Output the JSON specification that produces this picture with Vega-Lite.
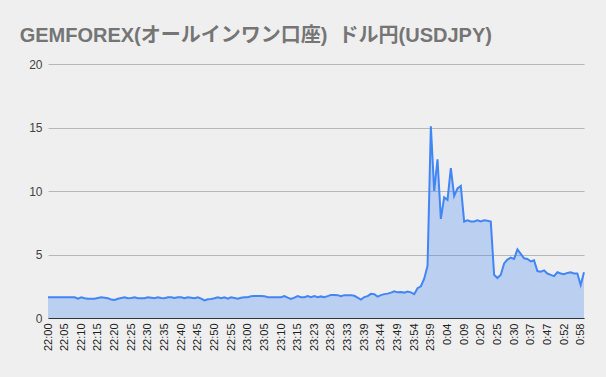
{
  "$schema": "https://vega.github.io/schema/vega-lite/v6.json",
  "width": 536,
  "height": 254,
  "autosize": {"type": "none"},
  "padding": {"left": 48, "top": 64, "right": 22, "bottom": 59},
  "background": "#efefef",
  "title": {
    "text": "GEMFOREX(オールインワン口座)\u00a0\u00a0ドル円(USDJPY)",
    "anchor": "start",
    "dx": -9,
    "offset": 12,
    "font": "Liberation Sans, Noto Sans CJK JP",
    "fontSize": 20,
    "fontWeight": "bold",
    "color": "#757575"
  },
  "config": {"view": {"stroke": null}},
  "data": {
    "values": [
      {"t": "22:00", "v": 1.63}, {"t": "22:01", "v": 1.63}, {"t": "22:02", "v": 1.63}, {"t": "22:03", "v": 1.63},
      {"t": "22:04", "v": 1.63}, {"t": "22:05", "v": 1.63}, {"t": "22:06", "v": 1.63}, {"t": "22:07", "v": 1.63},
      {"t": "22:08", "v": 1.63}, {"t": "22:09", "v": 1.52}, {"t": "22:10", "v": 1.63}, {"t": "22:11", "v": 1.56},
      {"t": "22:12", "v": 1.52}, {"t": "22:13", "v": 1.52}, {"t": "22:14", "v": 1.52}, {"t": "22:15", "v": 1.58},
      {"t": "22:16", "v": 1.63}, {"t": "22:17", "v": 1.6}, {"t": "22:18", "v": 1.55}, {"t": "22:19", "v": 1.45},
      {"t": "22:20", "v": 1.42}, {"t": "22:21", "v": 1.52}, {"t": "22:22", "v": 1.58}, {"t": "22:23", "v": 1.63},
      {"t": "22:24", "v": 1.56}, {"t": "22:25", "v": 1.58}, {"t": "22:26", "v": 1.63}, {"t": "22:27", "v": 1.56},
      {"t": "22:28", "v": 1.55}, {"t": "22:29", "v": 1.55}, {"t": "22:30", "v": 1.63}, {"t": "22:31", "v": 1.6},
      {"t": "22:32", "v": 1.55}, {"t": "22:33", "v": 1.63}, {"t": "22:34", "v": 1.58}, {"t": "22:35", "v": 1.55},
      {"t": "22:36", "v": 1.63}, {"t": "22:37", "v": 1.63}, {"t": "22:38", "v": 1.58}, {"t": "22:39", "v": 1.63},
      {"t": "22:40", "v": 1.63}, {"t": "22:41", "v": 1.56}, {"t": "22:42", "v": 1.63}, {"t": "22:43", "v": 1.6},
      {"t": "22:44", "v": 1.56}, {"t": "22:45", "v": 1.63}, {"t": "22:46", "v": 1.52}, {"t": "22:47", "v": 1.38},
      {"t": "22:48", "v": 1.48}, {"t": "22:49", "v": 1.5}, {"t": "22:50", "v": 1.56}, {"t": "22:51", "v": 1.63},
      {"t": "22:52", "v": 1.55}, {"t": "22:53", "v": 1.63}, {"t": "22:54", "v": 1.52}, {"t": "22:55", "v": 1.63},
      {"t": "22:56", "v": 1.58}, {"t": "22:57", "v": 1.52}, {"t": "22:58", "v": 1.6}, {"t": "22:59", "v": 1.63},
      {"t": "23:00", "v": 1.63}, {"t": "23:01", "v": 1.72}, {"t": "23:02", "v": 1.74}, {"t": "23:03", "v": 1.74},
      {"t": "23:04", "v": 1.74}, {"t": "23:05", "v": 1.72}, {"t": "23:06", "v": 1.63}, {"t": "23:07", "v": 1.63},
      {"t": "23:08", "v": 1.63}, {"t": "23:09", "v": 1.63}, {"t": "23:10", "v": 1.63}, {"t": "23:11", "v": 1.72},
      {"t": "23:12", "v": 1.6}, {"t": "23:13", "v": 1.5}, {"t": "23:14", "v": 1.6}, {"t": "23:15", "v": 1.72},
      {"t": "23:17", "v": 1.63}, {"t": "23:19", "v": 1.63}, {"t": "23:20", "v": 1.72}, {"t": "23:22", "v": 1.63},
      {"t": "23:23", "v": 1.72}, {"t": "23:24", "v": 1.63}, {"t": "23:25", "v": 1.7}, {"t": "23:26", "v": 1.63},
      {"t": "23:27", "v": 1.72}, {"t": "23:28", "v": 1.82}, {"t": "23:29", "v": 1.82}, {"t": "23:30", "v": 1.8},
      {"t": "23:31", "v": 1.72}, {"t": "23:32", "v": 1.8}, {"t": "23:33", "v": 1.8}, {"t": "23:34", "v": 1.8},
      {"t": "23:35", "v": 1.75}, {"t": "23:36", "v": 1.6}, {"t": "23:38", "v": 1.45}, {"t": "23:39", "v": 1.65},
      {"t": "23:40", "v": 1.72}, {"t": "23:41", "v": 1.9}, {"t": "23:42", "v": 1.88}, {"t": "23:43", "v": 1.68},
      {"t": "23:44", "v": 1.8}, {"t": "23:45", "v": 1.88}, {"t": "23:46", "v": 1.92}, {"t": "23:47", "v": 2.0},
      {"t": "23:48", "v": 2.1}, {"t": "23:49", "v": 2.02}, {"t": "23:50", "v": 2.05}, {"t": "23:51", "v": 2.0},
      {"t": "23:52", "v": 2.08}, {"t": "23:53", "v": 2.02}, {"t": "23:54", "v": 1.88}, {"t": "23:55", "v": 2.35},
      {"t": "23:56", "v": 2.5}, {"t": "23:57", "v": 3.1}, {"t": "23:58", "v": 4.1}, {"t": "23:59", "v": 15.1},
      {"t": "0:00", "v": 10.0}, {"t": "0:01", "v": 12.5}, {"t": "0:02", "v": 7.8}, {"t": "0:03", "v": 9.5},
      {"t": "0:04", "v": 9.3}, {"t": "0:05", "v": 11.8}, {"t": "0:06", "v": 9.6}, {"t": "0:07", "v": 10.2},
      {"t": "0:08", "v": 10.4}, {"t": "0:09", "v": 7.6}, {"t": "0:11", "v": 7.7}, {"t": "0:13", "v": 7.6},
      {"t": "0:15", "v": 7.6}, {"t": "0:18", "v": 7.7}, {"t": "0:20", "v": 7.6}, {"t": "0:21", "v": 7.7},
      {"t": "0:22", "v": 7.65}, {"t": "0:23", "v": 7.6}, {"t": "0:24", "v": 3.4}, {"t": "0:25", "v": 3.15},
      {"t": "0:26", "v": 3.4}, {"t": "0:27", "v": 4.3}, {"t": "0:28", "v": 4.6}, {"t": "0:29", "v": 4.75},
      {"t": "0:30", "v": 4.65}, {"t": "0:31", "v": 5.4}, {"t": "0:33", "v": 5.05}, {"t": "0:34", "v": 4.7},
      {"t": "0:36", "v": 4.65}, {"t": "0:37", "v": 4.45}, {"t": "0:39", "v": 4.55}, {"t": "0:41", "v": 3.7},
      {"t": "0:43", "v": 3.65}, {"t": "0:45", "v": 3.75}, {"t": "0:47", "v": 3.5}, {"t": "0:48", "v": 3.4},
      {"t": "0:49", "v": 3.3}, {"t": "0:50", "v": 3.6}, {"t": "0:51", "v": 3.5}, {"t": "0:52", "v": 3.45},
      {"t": "0:53", "v": 3.55}, {"t": "0:54", "v": 3.6}, {"t": "0:55", "v": 3.5}, {"t": "0:57", "v": 3.5},
      {"t": "0:58", "v": 2.6}, {"t": "0:59", "v": 3.6}
    ]
  },
  "encoding": {
    "x": {
      "field": "t",
      "type": "ordinal",
      "sort": null,
      "scale": {"type": "point", "padding": 0},
      "axis": {
        "values": ["22:00", "22:05", "22:10", "22:15", "22:20", "22:25", "22:30", "22:35", "22:40", "22:45", "22:50", "22:55", "23:00", "23:05", "23:10", "23:15", "23:23", "23:28", "23:33", "23:39", "23:44", "23:49", "23:54", "23:59", "0:04", "0:09", "0:20", "0:25", "0:30", "0:37", "0:47", "0:52", "0:58"],
        "title": null,
        "labelAngle": 270,
        "labelFont": "Liberation Sans",
        "labelFontSize": 11,
        "labelColor": "#222222",
        "labelPadding": 5,
        "ticks": false,
        "grid": false,
        "domainColor": "#333333",
        "domainWidth": 1,
        "zindex": 1,
        "labelOverlap": false
      }
    },
    "y": {
      "field": "v",
      "type": "quantitative",
      "scale": {"domain": [0, 20], "nice": false},
      "axis": {
        "values": [0, 5, 10, 15, 20],
        "title": null,
        "domain": false,
        "ticks": false,
        "labelPadding": 6,
        "labelFont": "Liberation Sans",
        "labelFontSize": 12,
        "labelColor": "#444444",
        "gridColor": "#b7b7b7",
        "gridWidth": 1
      }
    }
  },
  "layer": [
    {"mark": {"type": "area", "color": "#4285f4", "fillOpacity": 0.3}},
    {"mark": {"type": "line", "color": "#4285f4", "strokeWidth": 2}}
  ]
}
